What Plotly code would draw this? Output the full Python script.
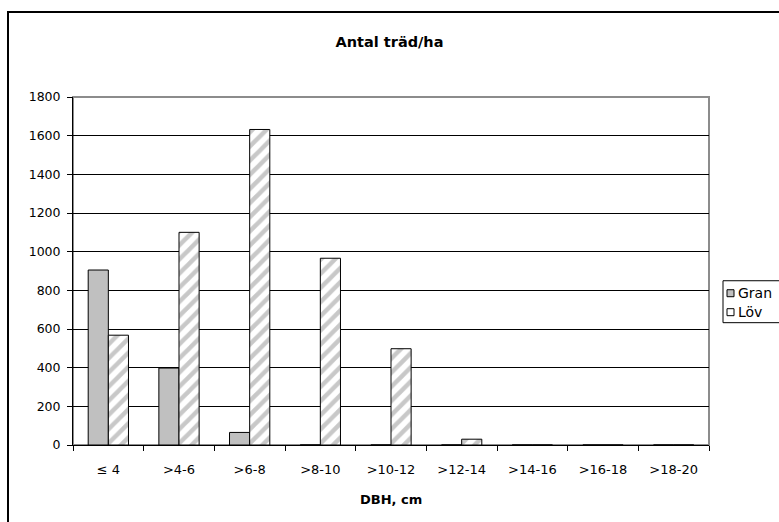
import plotly.graph_objects as go

# Diameter classes (DBH, cm) and stem counts per hectare
classes = ["≤ 4", ">4-6", ">6-8", ">8-10", ">10-12", ">12-14", ">14-16", ">16-18", ">18-20"]
gran = [905, 398, 65, 0, 0, 0, 0, 0, 0]
lov = [568, 1100, 1632, 966, 498, 30, 0, 0, 0]
y_ticks = [0, 200, 400, 600, 800, 1000, 1200, 1400, 1600, 1800]
series_names = ["Gran", "Löv"]

W, H = 779, 522
L, R, T, B = 73, 70, 97, 76.5
pw, ph = W - L - R, H - T - B

def px_x(p):
    return (p - L) / pw

def px_y(p):
    return (H - B - p) / ph

font = "DejaVu Sans, sans-serif"
gran_fill = "#c0c0c0"
hatch = dict(shape="/", fgcolor="#c8c8c8", bgcolor="#ffffff",
             size=10, solidity=0.45, fillmode="replace")

fig = go.Figure()
fig.add_trace(go.Bar(
    x=classes, y=gran, name=series_names[0],
    marker=dict(color=gran_fill, line=dict(color="#000000", width=1)),
))
fig.add_trace(go.Bar(
    x=classes, y=lov, name=series_names[1],
    marker=dict(color="#ffffff", line=dict(color="#000000", width=1), pattern=hatch),
))

# legend drawn as a compact boxed key at the right side
legend_shapes = [
    dict(type="rect", xref="paper", yref="paper",
         x0=px_x(723), x1=px_x(800), y0=px_y(323), y1=px_y(281),
         line=dict(color="#000000", width=1), fillcolor="#ffffff"),
    dict(type="rect", xref="paper", yref="paper",
         x0=px_x(727), x1=px_x(734), y0=px_y(297), y1=px_y(290),
         line=dict(color="#000000", width=1), fillcolor=gran_fill),
    dict(type="rect", xref="paper", yref="paper",
         x0=px_x(727), x1=px_x(734), y0=px_y(316), y1=px_y(309),
         line=dict(color="#000000", width=1), fillcolor="#ffffff"),
]
legend_labels = [
    dict(text=series_names[0], xref="paper", yref="paper", x=px_x(736), y=px_y(293.5),
         xanchor="left", yanchor="middle", showarrow=False,
         font=dict(family=font, size=14, color="#000000")),
    dict(text=series_names[1], xref="paper", yref="paper", x=px_x(736), y=px_y(312.5),
         xanchor="left", yanchor="middle", showarrow=False,
         font=dict(family=font, size=14, color="#000000")),
]

fig.update_layout(
    width=W, height=H,
    margin=dict(l=L, r=R, t=T, b=B, pad=0, autoexpand=False),
    paper_bgcolor="#ffffff", plot_bgcolor="#ffffff",
    barmode="group", bargap=0.43, bargroupgap=0,
    font=dict(family=font, size=12, color="#000000"),
    title=dict(text="<b>Antal träd/ha</b>", x=0.5, xanchor="center",
               y=1 - 42 / H, yanchor="middle",
               font=dict(family=font, size=14.5, color="#000000")),
    showlegend=False,
    xaxis=dict(
        type="category", showline=True, linecolor="#000000", linewidth=1,
        ticks="outside", tickson="boundaries", ticklen=5, tickcolor="#000000",
        showgrid=False, zeroline=False, ticklabelstandoff=12,
        tickfont=dict(family=font, size=13),
    ),
    yaxis=dict(
        range=[0, 1800], tickvals=y_ticks, showline=True, linecolor="#000000",
        linewidth=1, ticks="outside", ticklen=5, tickcolor="#000000",
        showgrid=True, gridcolor="#000000", gridwidth=1, zeroline=False,
        ticklabelstandoff=4,
        tickfont=dict(family=font, size=12.5),
    ),
    annotations=[
        dict(text="<b>DBH, cm</b>", xref="paper", yref="paper", x=0.5, y=px_y(500),
             xanchor="center", yanchor="middle", showarrow=False,
             font=dict(family=font, size=13, color="#000000")),
    ] + legend_labels,
    shapes=[
        # plot-area border (grey)
        dict(type="rect", xref="paper", yref="paper", x0=0, y0=0, x1=1, y1=1,
             line=dict(color="#8c8c8c", width=2), layer="below"),
        # chart frame
        dict(type="rect", xref="paper", yref="paper",
             x0=px_x(8), y0=px_y(540), x1=px_x(800), y1=px_y(12),
             line=dict(color="#000000", width=2), fillcolor="rgba(0,0,0,0)"),
    ] + legend_shapes,
)

fig.write_html("out.html")
